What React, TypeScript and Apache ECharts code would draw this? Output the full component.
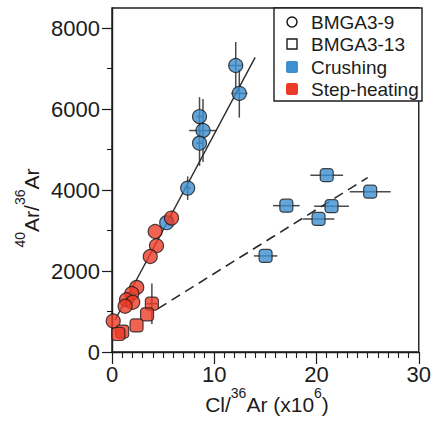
import React, { useEffect, useRef } from "react";
import * as echarts from "echarts";

// Axis ticks
const xTicks = [0, 10, 20, 30];
const yTicks = [0, 2000, 4000, 6000, 8000];
const yMinorTicks = [1000, 3000, 5000, 7000];

// Points: [Cl/36Ar (x10^6), 40Ar/36Ar, xErr, yErr]
const bmga9Crushing = [
  [12.1, 7080, 0.68, 580],
  [12.45, 6390, 0.8, 600],
  [8.56, 5817, 0.3, 480],
  [8.9, 5472, 1.35, 780],
  [8.56, 5160, 0.3, 560],
  [7.4, 4050, 0.3, 290],
  [5.35, 3195, 0, 0],
];
const bmga9Step = [
  [5.82, 3309, 0.2, 180],
  [4.22, 2978, 0, 0],
  [4.35, 2625, 0, 0],
  [3.74, 2360, 0, 0],
  [2.42, 1595, 0, 0],
  [1.94, 1445, 0, 0],
  [1.42, 1290, 0, 0],
  [2.03, 1230, 0, 0],
  [1.28, 1130, 0, 0],
  [0.12, 765, 0, 0],
];
const bmga13Crushing = [
  [21.0, 4370, 1.6, 0],
  [25.25, 3962, 2.0, 0],
  [17.05, 3616, 1.3, 0],
  [21.47, 3603, 1.7, 0],
  [20.2, 3287, 1.55, 0],
  [15.02, 2374, 1.15, 0],
];
const bmga13Step = [
  [3.9, 1193, 0.5, 500],
  [3.43, 930, 0, 0],
  [2.4, 657, 0, 0],
  [1.0, 505, 0, 0],
  [0.62, 445, 0, 0],
];

// Regression lines
const solidLine = [
  [0.3, 790],
  [14.0, 7280],
];
const dashedLine = [
  [4.5, 1071],
  [25.0, 4310],
];

const legendItems = ["BMGA3-9", "BMGA3-13", "Crushing", "Step-heating"];

const BLUE = "#3d8fcf";
const RED = "#ec3b26";
const INK = "#1c1c1c";
const FONT = "'Liberation Sans', Arial, Helvetica, sans-serif";

export default function App() {
  const ref = useRef<HTMLDivElement>(null);

  useEffect(() => {
    if (!ref.current) return;
    const chart = echarts.init(ref.current, undefined, { renderer: "svg" });

    const allErr = [...bmga9Crushing, ...bmga9Step, ...bmga13Crushing, ...bmga13Step];

    const markerBorder = { borderColor: INK, borderWidth: 1.2 };

    const legendY = [22, 44, 67, 89];

    const option: any = {
      animation: false,
      backgroundColor: "#ffffff",
      grid: {
        left: 112,
        top: 8,
        width: 310,
        height: 344,
        show: true,
        borderColor: INK,
        borderWidth: 1.4,
        backgroundColor: "transparent",
      },
      xAxis: {
        type: "value",
        min: 0,
        max: 30,
        interval: 10,
        axisLine: { show: true, lineStyle: { color: INK, width: 1.4 } },
        axisTick: {
          show: true,
          length: 12,
          lineStyle: { color: INK, width: 1.2 },
          customValues: xTicks,
        },
        minorTick: {
          show: true,
          splitNumber: 10,
          length: 6,
          lineStyle: { color: INK, width: 1.1 },
        },
        axisLabel: {
          margin: 11,
          fontSize: 22,
          color: INK,
          fontFamily: FONT,
          customValues: xTicks,
          formatter: (v: number) => String(v),
        },
        splitLine: { show: false },
        minorSplitLine: { show: false },
      },
      yAxis: [
        {
          type: "value",
          min: 0,
          max: 8500,
          interval: 2000,
          axisLine: { show: true, lineStyle: { color: INK, width: 1.4 } },
          axisTick: {
            show: true,
            length: 10,
            lineStyle: { color: INK, width: 1.2 },
            customValues: yTicks,
          },
          axisLabel: {
            margin: 12,
            fontSize: 22,
            color: INK,
            fontFamily: FONT,
            customValues: yTicks,
            formatter: (v: number) => String(v),
          },
          splitLine: { show: false },
        },
        {
          type: "value",
          min: 0,
          max: 8500,
          position: "left",
          axisLine: { show: false },
          axisTick: {
            show: true,
            length: 5,
            lineStyle: { color: INK, width: 1.1 },
            customValues: yMinorTicks,
          },
          axisLabel: { show: false, customValues: yMinorTicks },
          splitLine: { show: false },
        },
      ],
      series: [
        {
          type: "custom",
          name: "errors",
          z: 1,
          data: allErr,
          encode: { x: 0, y: 1 },
          renderItem: (_params: any, api: any) => {
            const x = api.value(0);
            const y = api.value(1);
            const xe = api.value(2);
            const ye = api.value(3);
            const children: any[] = [];
            const st = { stroke: "#4a4a4a", lineWidth: 1.5 };
            if (xe > 0) {
              const a = api.coord([x - xe, y]);
              const b = api.coord([x + xe, y]);
              children.push({ type: "line", shape: { x1: a[0], y1: a[1], x2: b[0], y2: b[1] }, style: st });
            }
            if (ye > 0) {
              const a = api.coord([x, y - ye]);
              const b = api.coord([x, y + ye]);
              children.push({ type: "line", shape: { x1: a[0], y1: a[1], x2: b[0], y2: b[1] }, style: st });
            }
            return { type: "group", children };
          },
        },
        {
          type: "line",
          name: "fit9",
          z: 2,
          data: solidLine,
          symbol: "none",
          lineStyle: { color: "#2a2a2a", width: 1.4 },
        },
        {
          type: "line",
          name: "fit13",
          z: 2,
          data: dashedLine,
          symbol: "none",
          lineStyle: { color: "#2a2a2a", width: 1.6, type: [10, 6] },
        },
        {
          type: "scatter",
          name: "BMGA3-13 Crushing",
          z: 3,
          data: bmga13Crushing.map((d) => [d[0], d[1]]),
          symbol: "roundRect",
          symbolSize: 13,
          itemStyle: { color: BLUE, ...markerBorder },
        },
        {
          type: "scatter",
          name: "BMGA3-13 Step-heating",
          z: 3,
          data: bmga13Step.map((d) => [d[0], d[1]]),
          symbol: "roundRect",
          symbolSize: 13,
          itemStyle: { color: RED, ...markerBorder },
        },
        {
          type: "scatter",
          name: "BMGA3-9 Crushing",
          z: 3,
          data: bmga9Crushing.map((d) => [d[0], d[1]]),
          symbol: "circle",
          symbolSize: 14,
          itemStyle: { color: BLUE, ...markerBorder },
        },
        {
          type: "scatter",
          name: "BMGA3-9 Step-heating",
          z: 3,
          data: bmga9Step.map((d) => [d[0], d[1]]),
          symbol: "circle",
          symbolSize: 14,
          itemStyle: { color: RED, ...markerBorder },
        },
      ],
      graphic: [
        // legend box
        {
          type: "rect",
          z: 10,
          shape: { x: 274, y: 8, width: 148, height: 93 },
          style: { fill: "#ffffff", stroke: INK, lineWidth: 1.4 },
        },
        {
          type: "circle",
          z: 11,
          shape: { cx: 292, cy: legendY[0], r: 5 },
          style: { fill: "#ffffff", stroke: INK, lineWidth: 1.5 },
        },
        {
          type: "rect",
          z: 11,
          shape: { x: 287, y: legendY[1] - 5, width: 10, height: 10 },
          style: { fill: "#ffffff", stroke: INK, lineWidth: 1.4 },
        },
        {
          type: "rect",
          z: 11,
          shape: { x: 286, y: legendY[2] - 6, width: 12, height: 12, r: 2 },
          style: { fill: BLUE },
        },
        {
          type: "rect",
          z: 11,
          shape: { x: 286, y: legendY[3] - 6, width: 12, height: 12, r: 2 },
          style: { fill: RED },
        },
        ...legendItems.map((t, i) => ({
          type: "text",
          z: 11,
          x: 311,
          y: legendY[i],
          style: {
            text: t,
            fontSize: 19,
            fontFamily: FONT,
            fill: INK,
            align: "left",
            verticalAlign: "middle",
          },
        })),
        // x axis title
        {
          type: "text",
          z: 11,
          x: 267,
          y: 404,
          style: {
            text: "{m|Cl/}{s|36}{m|Ar (x10}{s|6}{m|)}",
            align: "center",
            verticalAlign: "middle",
            fontFamily: FONT,
            rich: {
              m: { fontSize: 21, lineHeight: 36, fontFamily: FONT, fill: INK },
              s: { fontSize: 14, lineHeight: 14, fontFamily: FONT, fill: INK, verticalAlign: "top" },
            },
          },
        },
        // y axis title
        {
          type: "text",
          z: 11,
          x: 31,
          y: 208,
          rotation: Math.PI / 2,
          style: {
            text: "{s|40}{m|Ar/}{s|36}{m|Ar}",
            align: "center",
            verticalAlign: "middle",
            fontFamily: FONT,
            rich: {
              m: { fontSize: 21, lineHeight: 36, fontFamily: FONT, fill: INK },
              s: { fontSize: 14, lineHeight: 14, fontFamily: FONT, fill: INK, verticalAlign: "top" },
            },
          },
        },
      ],
    };

    chart.setOption(option);
    return () => chart.dispose();
  }, []);

  return (
    <div
      ref={ref}
      style={{ position: "absolute", left: 0, top: 0, width: 434, height: 423 }}
    />
  );
}
